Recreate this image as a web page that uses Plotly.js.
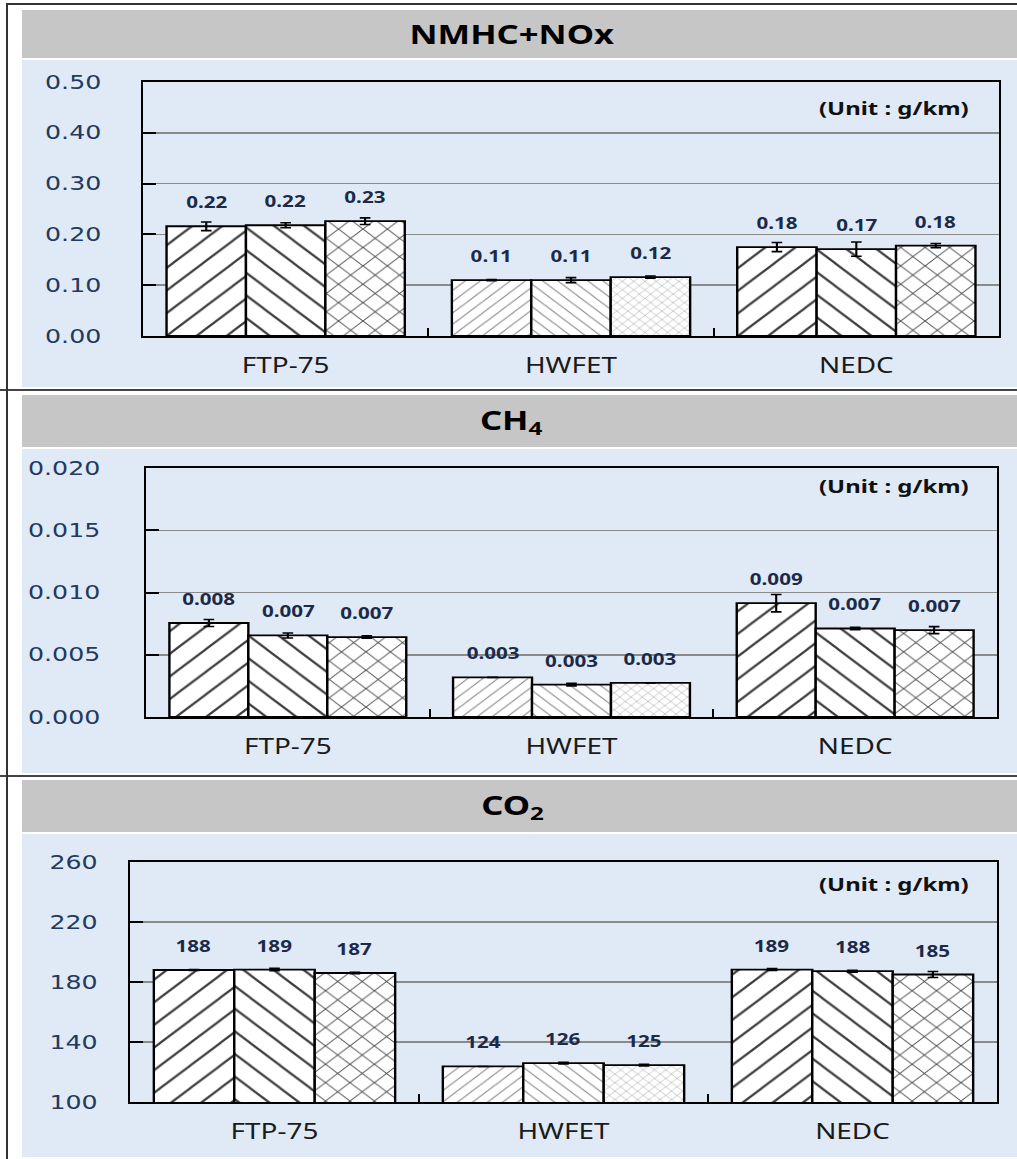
<!DOCTYPE html>
<html>
<head>
<meta charset="utf-8">
<script src="https://cdn.plot.ly/plotly-3.0.1.min.js"></script>
<style>
  html, body { margin:0; padding:0; background:#ffffff; }
  #wrap { width:1017px; height:1159px; overflow:hidden; position:relative; }
  #plot { width:765px; height:1159px; transform:scale(1.329412,1); transform-origin:0 0; }
  .frame-v { position:absolute; left:6px; top:3px; width:2px; height:1156px; background:#333; }
  .frame-h { position:absolute; left:6px; top:3px; width:1011px; height:2px; background:#333; }
</style>
</head>
<body>
<div id="wrap"><div id="plot"></div><div class="frame-v"></div><div class="frame-h"></div></div>
<script>
// ---------------- DATA ----------------
const categories = ['FTP-75', 'HWFET', 'NEDC'];

// Panel 1: NMHC+NOx (g/km)
const nmhcA = [0.216, 0.110, 0.175];
const nmhcB = [0.218, 0.110, 0.171];
const nmhcC = [0.226, 0.116, 0.178];
const nmhcErrA = [0.0085, 0.001, 0.009];
const nmhcErrB = [0.005, 0.005, 0.014];
const nmhcErrC = [0.0065, 0.002, 0.004];
const nmhcLabA = ['0.22', '0.11', '0.18'];
const nmhcLabB = ['0.22', '0.11', '0.17'];
const nmhcLabC = ['0.23', '0.12', '0.18'];

// Panel 2: CH4 (g/km)
const ch4A = [0.00755, 0.00318, 0.00914];
const ch4B = [0.00655, 0.00260, 0.00711];
const ch4C = [0.00642, 0.00274, 0.00698];
const ch4ErrA = [0.00028, 0, 0.0007];
const ch4ErrB = [0.0002, 0.0001, 0.0001];
const ch4ErrC = [0.0001, 0, 0.00028];
const ch4LabA = ['0.008', '0.003', '0.009'];
const ch4LabB = ['0.007', '0.003', '0.007'];
const ch4LabC = ['0.007', '0.003', '0.007'];

// Panel 3: CO2 (g/km)
const co2A = [188.0, 123.7, 188.3];
const co2B = [188.3, 125.9, 187.2];
const co2C = [186.0, 124.6, 185.0];
const co2ErrA = [0.3, 0, 0.6];
const co2ErrB = [0.8, 0.5, 0.6];
const co2ErrC = [0.4, 0.5, 2.0];
const co2LabA = ['188', '124', '189'];
const co2LabB = ['189', '126', '188'];
const co2LabC = ['187', '125', '185'];

const panelTitles = ['NMHC+NOx', 'CH<sub>4</sub>', 'CO<sub>2</sub>'];
const unitText = '(Unit : g/km)';

// ---------------- LAYOUT HELPERS ----------------
const W = 1017, H = 1159;
const X = px => px / W;          // outer pixel -> paper x
const Y = py => 1 - py / H;      // outer pixel -> paper y
const BARGAP = 0.165;

const panels = [
  { sfx: '',  vals: [nmhcA, nmhcB, nmhcC], errs: [nmhcErrA, nmhcErrB, nmhcErrC], labs: [nmhcLabA, nmhcLabB, nmhcLabC],
    range: [0, 0.5], dtick: 0.1, fmt: '.2f', xd: [143, 999], yd: [82, 336], standoff: 26,
    head: [10, 58], blue: [60, 387], unitY: 108 },
  { sfx: '2', vals: [ch4A, ch4B, ch4C], errs: [ch4ErrA, ch4ErrB, ch4ErrC], labs: [ch4LabA, ch4LabB, ch4LabC],
    range: [0, 0.02], dtick: 0.005, fmt: '.3f', xd: [146, 997], yd: [468, 717], standoff: 29,
    head: [395, 447], blue: [449, 773], unitY: 486 },
  { sfx: '3', vals: [co2A, co2B, co2C], errs: [co2ErrA, co2ErrB, co2ErrC], labs: [co2LabA, co2LabB, co2LabC],
    range: [100, 260], dtick: 40, fmt: 'd', xd: [130, 997], yd: [862, 1102], standoff: 19,
    head: [780, 832], blue: [834, 1157], unitY: 884 }
];

const shapesPat = ['/', '\\', 'x'];
const bigSize = [16, 16, 13];
const smallSize = [8, 8, 6];

const traces = [];
const annotations = [];
const shapes = [];
const layout = {
  width: 765, height: 1159,
  margin: { l: 0, r: 0, t: 0, b: 0 },
  paper_bgcolor: '#ffffff',
  plot_bgcolor: 'rgba(0,0,0,0)',
  showlegend: false,
  barmode: 'group',
  bargap: BARGAP,
  bargroupgap: 0,
  font: { family: 'Noto Sans', color: '#1a1a1a' }
};

panels.forEach((p, pi) => {
  const xa = 'x' + p.sfx, ya = 'y' + p.sfx;
  // backgrounds
  shapes.push({ type: 'rect', xref: 'paper', yref: 'paper', layer: 'below',
    x0: X(22), x1: X(1017), y0: Y(p.head[1]), y1: Y(p.head[0]),
    fillcolor: '#c6c6c6', line: { width: 0 } });
  shapes.push({ type: 'rect', xref: 'paper', yref: 'paper', layer: 'below',
    x0: X(22), x1: X(1017), y0: Y(p.blue[1]), y1: Y(p.blue[0]),
    fillcolor: '#e0eaf6', line: { width: 0 } });

  // axes
  layout['xaxis' + p.sfx] = {
    domain: [X(p.xd[0]), X(p.xd[1])], anchor: ya,
    type: 'category', categoryorder: 'array', categoryarray: categories,
    showline: true, mirror: true, linecolor: '#000', linewidth: 2,
    ticks: 'inside', tickson: 'boundaries', ticklen: 8, tickwidth: 1.5, tickcolor: '#000',
    showgrid: false, zeroline: false,
    tickfont: { family: 'Noto Sans', size: 21, color: '#1a1a1a' },
    ticklabelstandoff: 10
  };
  layout['yaxis' + p.sfx] = {
    domain: [Y(p.yd[1]), Y(p.yd[0])], anchor: xa,
    range: p.range, dtick: p.dtick, tick0: p.range[0], tickformat: p.fmt,
    showline: true, mirror: true, linecolor: '#000', linewidth: 1.6,
    ticks: 'inside', ticklen: 10, tickwidth: 2, tickcolor: '#000',
    showgrid: true, gridcolor: '#8a8a8a', gridwidth: 1.5, zeroline: false,
    tickfont: { family: 'DejaVu Sans', size: 19, color: '#23395d' },
    ticklabelstandoff: p.standoff
  };

  // bars
  for (let s = 0; s < 3; s++) {
    traces.push({
      type: 'bar', x: categories, y: p.vals[s], xaxis: xa, yaxis: ya,
      offsetgroup: String(s),
      marker: {
        color: '#ffffff',
        line: { color: '#000', width: 1.8 },
        pattern: {
          shape: shapesPat[s],
          size: [bigSize[s], smallSize[s], bigSize[s]],
          fgcolor: ['#3c3c3c', '#8c8c8c', '#3c3c3c'],
          bgcolor: '#ffffff',
          solidity: 0.12,
          fillmode: 'replace'
        }
      },
      error_y: { type: 'data', array: p.errs[s], visible: true, color: '#000', thickness: 1.6, width: 4 },
      hoverinfo: 'skip'
    });
    // value labels
    const w = (1 - BARGAP) / 3;
    p.labs[s].forEach((t, j) => {
      annotations.push({
        xref: xa, yref: ya, x: j + (s - 1) * w, y: p.vals[s][j],
        yshift: 24, yanchor: 'middle', xanchor: 'center', showarrow: false,
        text: t, font: { family: 'Noto Sans', size: 15.5, color: '#1c2a48', weight: 700 }
      });
    });
  }

  // title
  annotations.push({
    xref: 'paper', yref: 'paper', x: X(512), y: Y((p.head[0] + p.head[1]) / 2),
    xanchor: 'center', yanchor: 'middle', showarrow: false,
    text: panelTitles[pi], font: { family: 'Noto Sans', size: 26, color: '#000', weight: 700 }
  });
  // unit
  annotations.push({
    xref: 'paper', yref: 'paper', x: X(972), y: Y(p.unitY),
    xanchor: 'right', yanchor: 'middle', showarrow: false,
    text: unitText, font: { family: 'Noto Sans', size: 18, color: '#111', weight: 700 }
  });
});

// panel separators
shapes.push({ type: 'line', xref: 'paper', yref: 'paper', x0: 0, x1: 1, y0: Y(390), y1: Y(390), line: { color: '#444', width: 2 } });
shapes.push({ type: 'line', xref: 'paper', yref: 'paper', x0: 0, x1: 1, y0: Y(776), y1: Y(776), line: { color: '#444', width: 2 } });

layout.shapes = shapes;
layout.annotations = annotations;

Plotly.newPlot('plot', traces, layout, { staticPlot: true, displayModeBar: false });
</script>
</body>
</html>
